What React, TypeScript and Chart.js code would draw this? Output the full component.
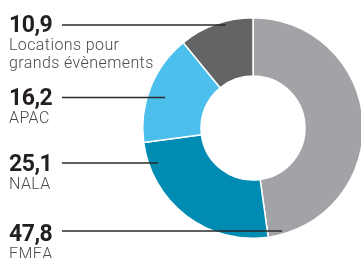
import React, { useEffect, useRef } from "react";
import { Chart, registerables } from "chart.js";

Chart.register(...registerables);

const categories = ["EMEA", "NALA", "APAC", "Locations pour\ngrands évènements"];
const values = [47.8, 25.1, 16.2, 10.9];
const valueLabels = ["47,8", "25,1", "16,2", "10,9"];
const colors = ["#a2a3a6", "#008cb2", "#4cbfed", "#636466"];

// label layout (annotation positions, not data)
const labelBaselines = [241, 171, 105, 31.5];
const lineYs = [231, 163, 97.5, 25];
const lineEndRadii = [107, 101, 93, 106.5];

const labelPlugin = {
  id: "sideLabels",
  afterDraw(chart: any) {
    const ctx = chart.ctx;
    const meta = chart.getDatasetMeta(0);
    ctx.save();
    meta.data.forEach((arc: any, i: number) => {
      const { x: cx, y: cy, startAngle, endAngle } = arc.getProps(["x", "y", "startAngle", "endAngle"], true);
      const mid = (startAngle + endAngle) / 2;
      const side = Math.cos(mid) >= 0 ? 1 : -1;
      const ly = lineYs[i];
      const r = lineEndRadii[i];
      const dy = ly - cy;
      const endX = cx + side * Math.sqrt(Math.max(r * r - dy * dy, 0));
      const base = labelBaselines[i];
      // number
      ctx.fillStyle = "#231f20";
      ctx.font = "bold 23px Roboto";
      ctx.textBaseline = "alphabetic";
      ctx.textAlign = "left";
      (ctx as any).letterSpacing = "-0.5px";
      ctx.fillText(valueLabels[i], 9, base);
      // line
      ctx.strokeStyle = "#2a2a2a";
      ctx.lineWidth = 1.3;
      ctx.beginPath();
      ctx.moveTo(62, ly);
      ctx.lineTo(endX, ly);
      ctx.stroke();
      // category label
      ctx.fillStyle = "#4a4a4c";
      ctx.font = "300 16px Roboto";
      (ctx as any).letterSpacing = "0.4px";
      const lines = categories[i].split("\n");
      lines.forEach((t, k) => {
        ctx.fillText(t, 9, base + 18 + k * 18.5);
      });
    });
    ctx.restore();
  },
};

export default function App() {
  const ref = useRef<HTMLCanvasElement>(null);
  useEffect(() => {
    document.body.style.margin = "0";
    const chart = new Chart(ref.current!, {
      type: "doughnut",
      data: {
        labels: categories,
        datasets: [
          {
            data: values,
            backgroundColor: colors,
            borderColor: "#ffffff",
            borderWidth: 1.5,
          },
        ],
      },
      options: {
        responsive: false,
        animation: false,
        cutout: 52,
        layout: { padding: { left: 142, right: 36, top: 17, bottom: 19 } },
        plugins: { legend: { display: false }, tooltip: { enabled: false } },
      },
      plugins: [labelPlugin],
    });
    return () => chart.destroy();
  }, []);
  return (
    <div style={{ position: "absolute", left: 0, top: 0, width: 361, height: 258, overflow: "hidden", background: "#fff" }}>
      <canvas ref={ref} width={400} height={258} style={{ display: "block" }} />
    </div>
  );
}
